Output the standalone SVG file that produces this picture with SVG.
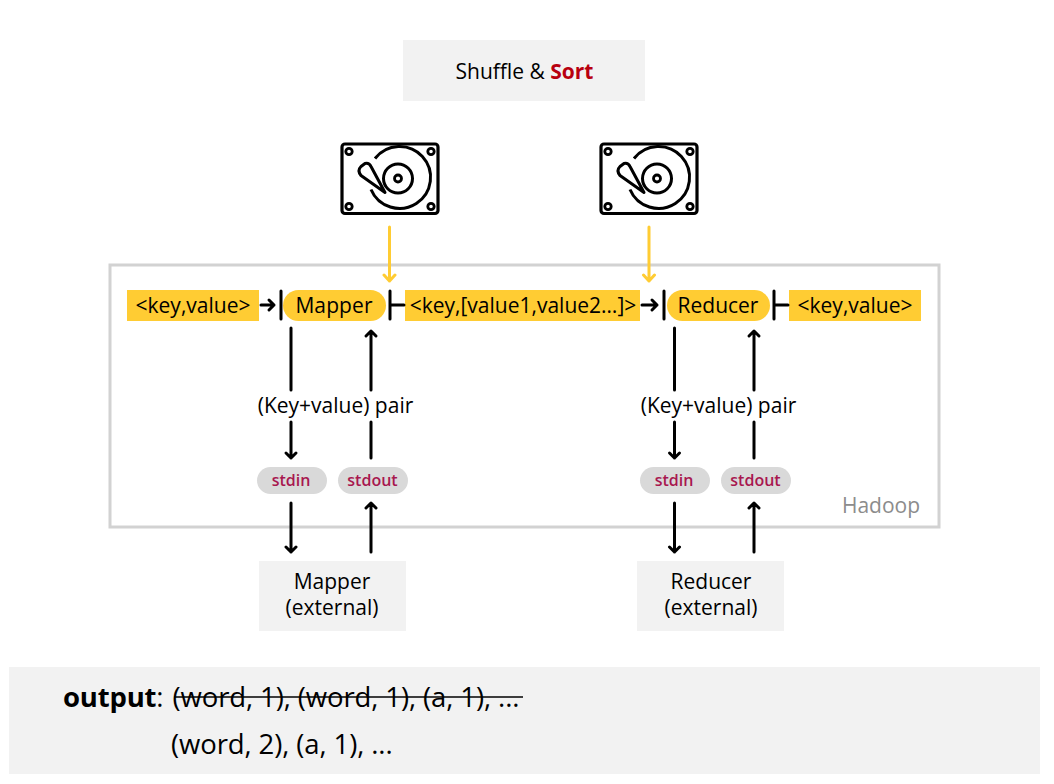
<svg xmlns="http://www.w3.org/2000/svg" xmlns:xlink="http://www.w3.org/1999/xlink" width="1054" height="784" viewBox="0 0 1054 784">
<style>
text{font-family:"Open Sans","Noto Sans",sans-serif;fill:#000}
.m{text-anchor:middle;font-size:21px}
.std{text-anchor:middle;font-size:16px;font-weight:600;fill:#a8174f}
.bar{stroke:#000;stroke-width:3;fill:none;stroke-linecap:round}
.c{stroke:#000;stroke-width:3;fill:none;stroke-linecap:round;stroke-linejoin:round}
.y{stroke:#ffcc33;stroke-width:3;fill:none;stroke-linecap:round;stroke-linejoin:round}
.tag{fill:#ffcc33}
.pill{fill:#d9d9d9}
.box{fill:#f2f2f2}
</style>
<defs>
<g id="hdd" fill="none" stroke="#000">
<rect x="-48" y="-34.500" width="96" height="69.500" rx="3" stroke-width="3.200"/>
<circle cx="-41" cy="-27" r="3.200" stroke-width="2.800"/>
<circle cx="41" cy="-27" r="3.200" stroke-width="2.800"/>
<circle cx="-41" cy="28" r="3.200" stroke-width="2.800"/>
<circle cx="41" cy="28" r="3.200" stroke-width="2.800"/>
<path d="M-15 -20A31 31 0 1 1 -19 11" stroke-width="3"/>
<circle cx="8" cy="0" r="14.500" stroke-width="3"/>
<circle cx="8" cy="0" r="3.500" stroke-width="2.800"/>
<path d="M-5 14L-29 -3Q-33 -8 -29 -12L-25 -15Q-21 -16 -19 -12Z" stroke-width="3" stroke-linejoin="round"/>
</g>
</defs>
<rect id="bg" width="1054" height="784" fill="#fff"/>
<g id="shuffle"><rect class="box" x="403" y="40" width="242" height="61"/>
<text x="524.500" y="79" text-anchor="middle" font-size="21">Shuffle &amp; <tspan font-weight="700" fill="#b8000f">Sort</tspan></text></g>
<g id="disk1"><use xlink:href="#hdd" href="#hdd" x="390" y="178.500"/></g>
<g id="disk2"><use xlink:href="#hdd" href="#hdd" x="649" y="178.500"/></g>
<g id="hadoop"><rect x="110" y="265" width="829" height="262" fill="none" stroke="#d2d2d2" stroke-width="3"/>
<text x="881" y="513" text-anchor="middle" font-size="21" style="fill:#8c8c8c">Hadoop</text></g>
<g id="input"><rect class="tag" x="127" y="290" width="132" height="31"/><text class="m" x="193" y="313">&lt;key,value&gt;</text></g>
<g id="mapper"><rect class="tag" x="283" y="290" width="103" height="31" rx="15.500"/><text class="m" x="334" y="313" letter-spacing="0.100">Mapper</text></g>
<g id="middle"><rect class="tag" x="405" y="290" width="235" height="31"/><text class="m" x="523" y="313">&lt;key,[value1,value2…]&gt;</text></g>
<g id="reducer"><rect class="tag" x="667" y="290" width="103" height="31" rx="15.500"/><text class="m" x="718" y="313">Reducer</text></g>
<g id="output"><rect class="tag" x="789" y="290" width="132" height="31"/><text class="m" x="855" y="313">&lt;key,value&gt;</text></g>
<g id="pair1"><text class="m" x="335.500" y="413">(Key+value) pair</text></g>
<g id="pair2"><text class="m" x="718.500" y="413">(Key+value) pair</text></g>
<g id="stdin1"><rect class="pill" x="257" y="467" width="70" height="27" rx="13.500"/><text class="std" x="291" y="486">stdin</text></g>
<g id="stdout1"><rect class="pill" x="338" y="467" width="70" height="27" rx="13.500"/><text class="std" x="372.500" y="486">stdout</text></g>
<g id="stdin2"><rect class="pill" x="640" y="467" width="70" height="27" rx="13.500"/><text class="std" x="674" y="486">stdin</text></g>
<g id="stdout2"><rect class="pill" x="721" y="467" width="70" height="27" rx="13.500"/><text class="std" x="755.500" y="486">stdout</text></g>
<g id="ext1"><rect class="box" x="259" y="561" width="147" height="70"/><text class="m" x="332" y="589">Mapper</text><text class="m" x="332" y="615">(external)</text></g>
<g id="ext2"><rect class="box" x="637" y="561" width="147" height="70"/><text class="m" x="711" y="589">Reducer</text><text class="m" x="711" y="615">(external)</text></g>
<g id="connectors">
<path class="y" d="M389.500 227V281M384 275L389.500 281L395 275"/>
<path class="y" d="M649 227V281M643.500 275L649 281L654.500 275"/>
<path class="c" d="M261 305H274M269 300L274 305L269 310"/>
<path class="bar" d="M281 291V319M390 291V319M664 291V319M774 291V319"/>
<path class="c" d="M391 305H404M775 305H788"/>
<path class="c" d="M642 305H657M652 300L657 305L652 310"/>
<path class="c" d="M291 328V390M291 422V458M286 453L291 458L296 453"/>
<path class="c" d="M371 390V331M366 336L371 331L376 336M371 422V458"/>
<path class="c" d="M291 503V552M286 547L291 552L296 547"/>
<path class="c" d="M371 552V503M366 508L371 503L376 508"/>
<path class="c" d="M674.500 328V390M674.500 422V458M669.500 453L674.500 458L679.500 453"/>
<path class="c" d="M754 390V331M749 336L754 331L759 336M754 422V458"/>
<path class="c" d="M674.500 503V552M669.500 547L674.500 552L679.500 547"/>
<path class="c" d="M754 552V503M749 508L754 503L759 508"/>
</g>
<g id="note"><rect class="box" x="9" y="667" width="1031" height="107"/>
<text x="63" y="707" font-size="27.500" letter-spacing="-0.200"><tspan font-weight="700">output</tspan>:</text>
<text x="172.500" y="706.500" font-size="27.500" letter-spacing="-0.100">(word, 1), (word, 1), (a, 1), ...</text>
<path d="M174 697H523" stroke="#000" stroke-width="1.500"/>
<text x="171" y="753.500" font-size="27.500" letter-spacing="-0.100">(word, 2), (a, 1), ...</text></g>
</svg>
